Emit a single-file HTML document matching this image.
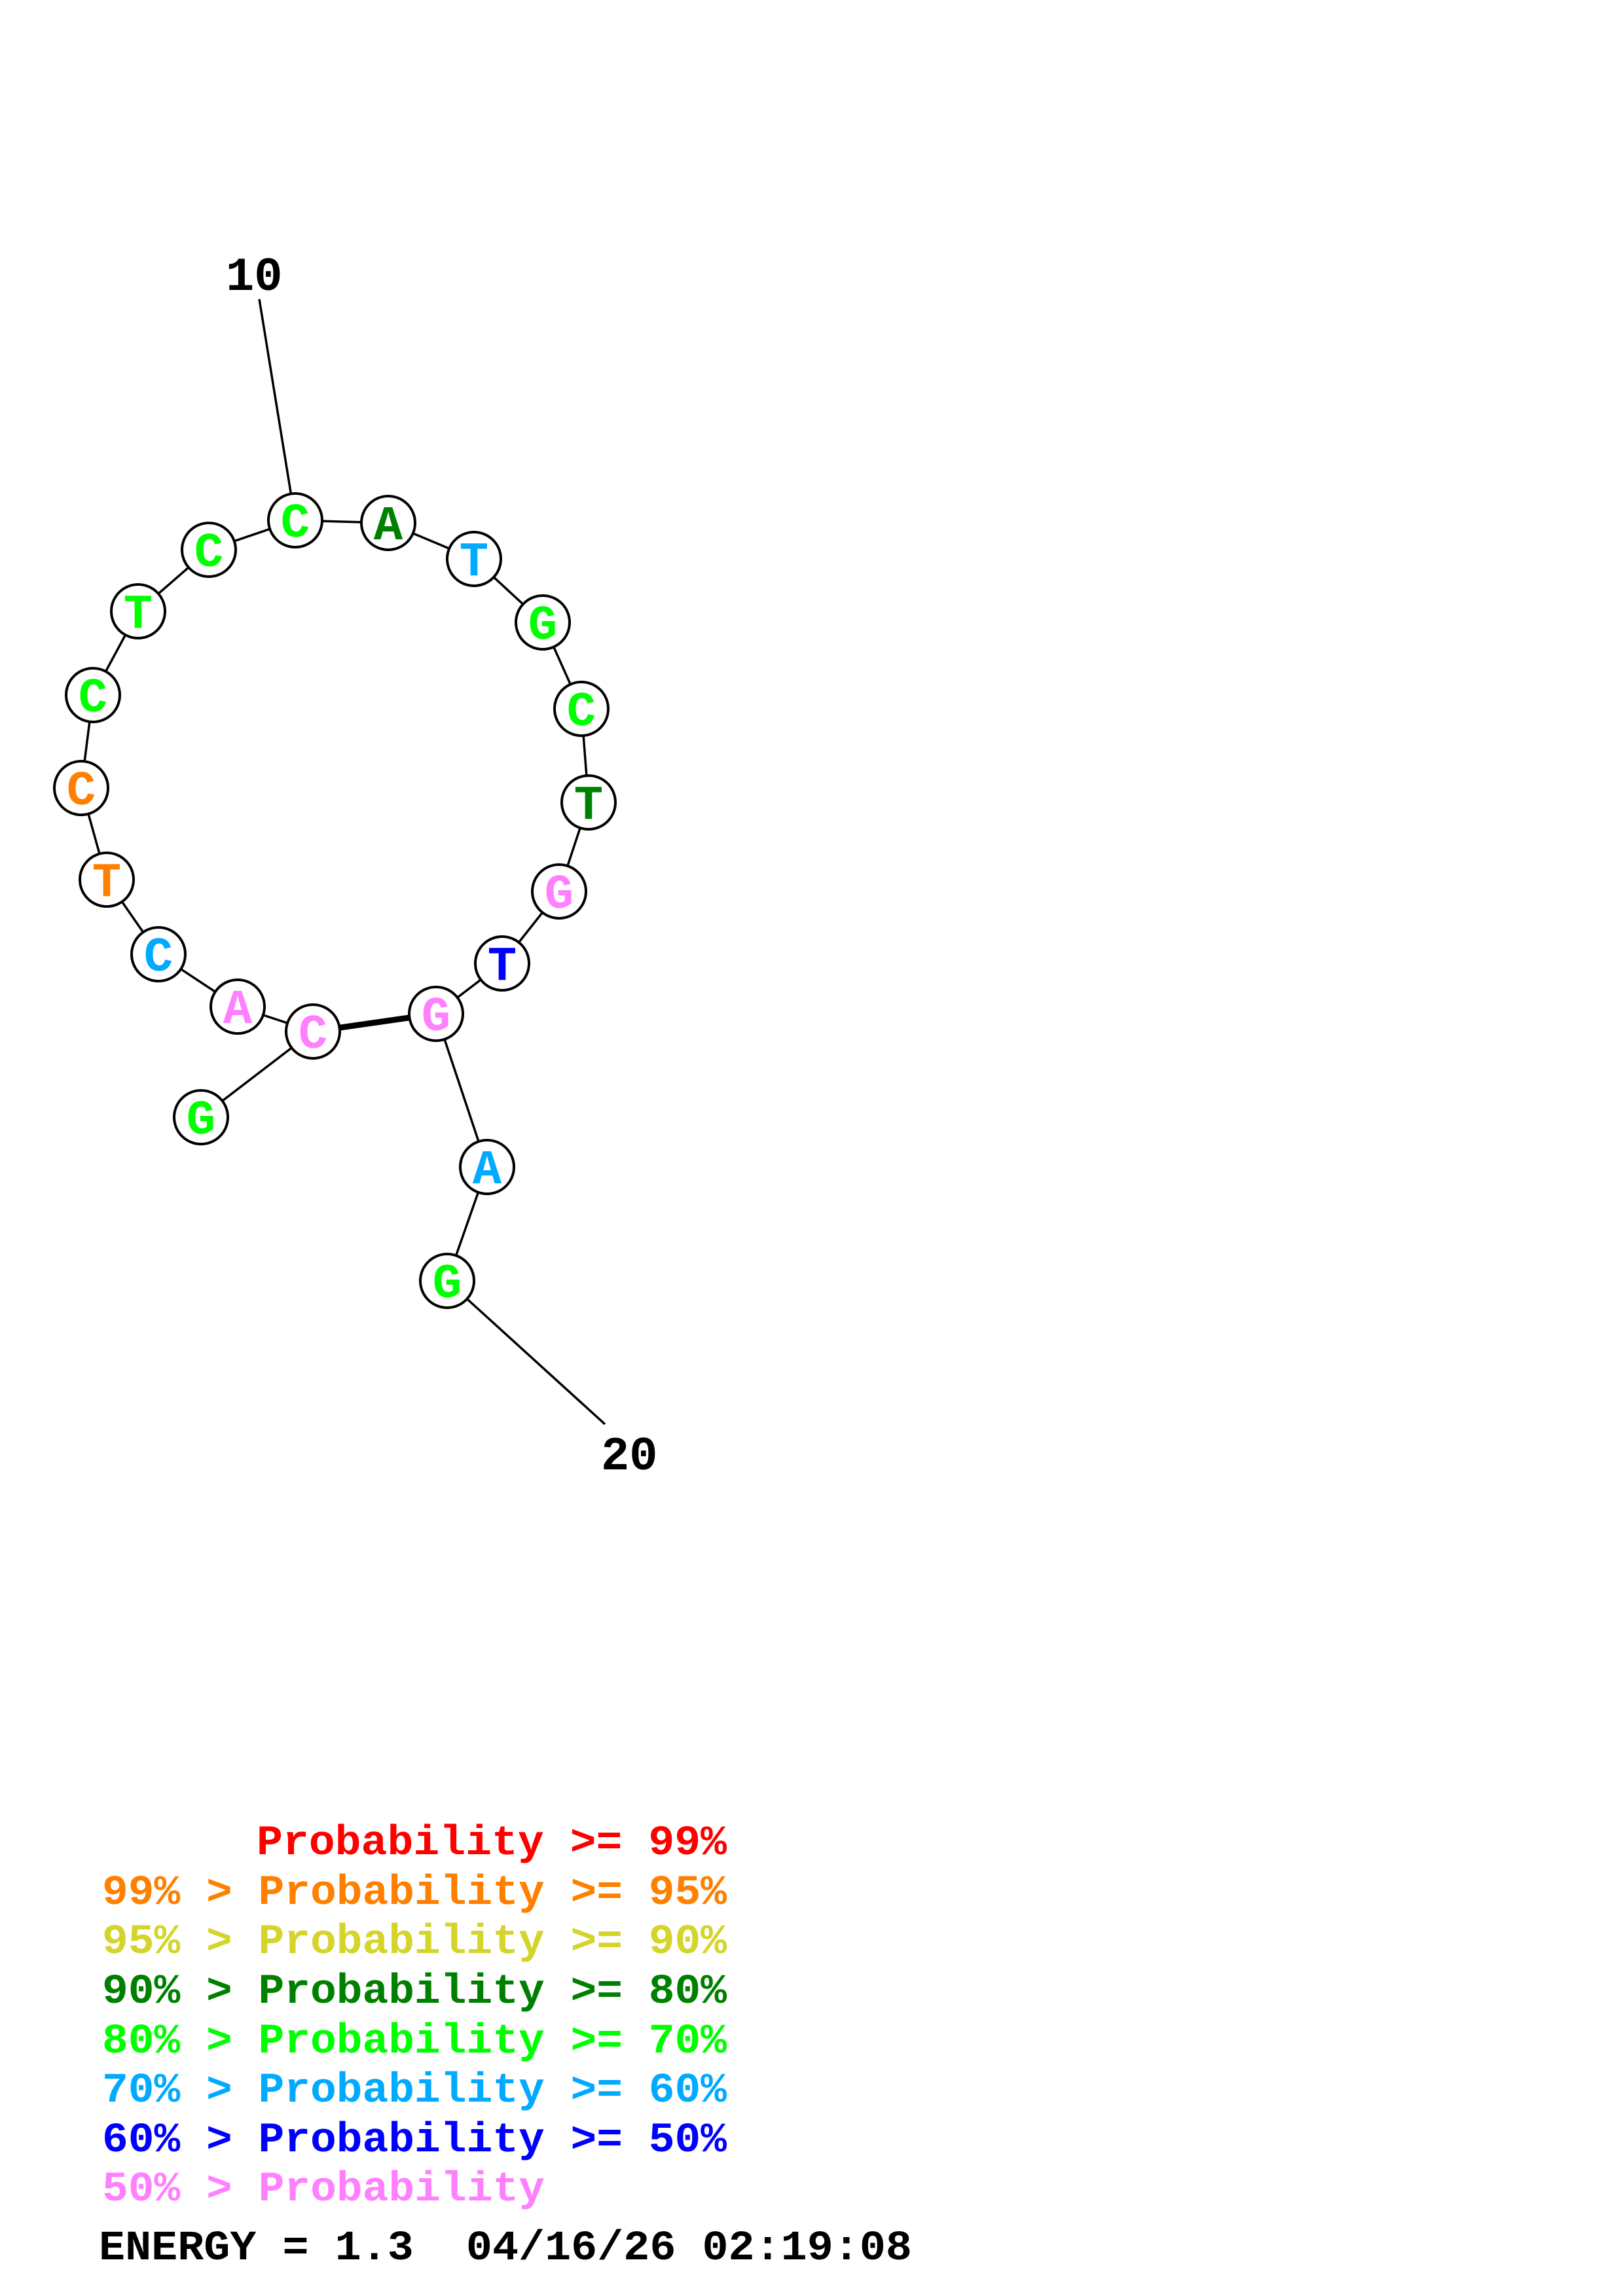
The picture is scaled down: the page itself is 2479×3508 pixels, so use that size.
<!DOCTYPE html>
<html><head><meta charset="utf-8"><style>html,body{margin:0;padding:0;background:#fff}svg{display:block}</style></head>
<body>
<svg width="2479" height="3508" viewBox="0 0 2479 3508" xmlns="http://www.w3.org/2000/svg">
<g stroke="#000" stroke-width="3.5" fill="none">
<polyline points="396,457 451,795 593,799 724,854 829,951 888,1083 899,1226 854,1362 767,1472 666,1549 744,1783 683,1957 924,2176"/>
<polyline points="451,795 319,840 211,934 142,1062 124,1204 163,1344 242,1458 363,1538 478,1576 307,1707"/>
<line x1="478" y1="1576" x2="666" y2="1549" stroke-width="9"/>
</g>
<g stroke="#000" stroke-width="4" fill="#fff">
<circle cx="451" cy="795" r="41"/><circle cx="593" cy="799" r="41"/><circle cx="724" cy="854" r="41"/>
<circle cx="829" cy="951" r="41"/><circle cx="888" cy="1083" r="41"/><circle cx="899" cy="1226" r="41"/>
<circle cx="854" cy="1362" r="41"/><circle cx="767" cy="1472" r="41"/><circle cx="666" cy="1549" r="41"/>
<circle cx="478" cy="1576" r="41"/><circle cx="363" cy="1538" r="41"/><circle cx="242" cy="1458" r="41"/>
<circle cx="163" cy="1344" r="41"/><circle cx="124" cy="1204" r="41"/><circle cx="142" cy="1062" r="41"/>
<circle cx="211" cy="934" r="41"/><circle cx="319" cy="840" r="41"/><circle cx="307" cy="1707" r="41"/>
<circle cx="744" cy="1783" r="41"/><circle cx="683" cy="1957" r="41"/>
</g>
<g font-family="Liberation Mono, monospace" font-weight="bold" font-size="74" text-anchor="middle">
<text x="451" y="820" fill="#00ff00">C</text>
<text x="593" y="824" fill="#008000">A</text>
<text x="724" y="879" fill="#00aaff">T</text>
<text x="829" y="976" fill="#00ff00">G</text>
<text x="888" y="1108" fill="#00ff00">C</text>
<text x="899" y="1251" fill="#008000">T</text>
<text x="854" y="1387" fill="#ff80ff">G</text>
<text x="767" y="1497" fill="#0000ff">T</text>
<text x="666" y="1574" fill="#ff80ff">G</text>
<text x="478" y="1601" fill="#ff80ff">C</text>
<text x="363" y="1563" fill="#ff80ff">A</text>
<text x="242" y="1483" fill="#00aaff">C</text>
<text x="163" y="1369" fill="#ff8000">T</text>
<text x="124" y="1229" fill="#ff8000">C</text>
<text x="142" y="1087" fill="#00ff00">C</text>
<text x="211" y="959" fill="#00ff00">T</text>
<text x="319" y="865" fill="#00ff00">C</text>
<text x="307" y="1732" fill="#00ff00">G</text>
<text x="744" y="1808" fill="#00aaff">A</text>
<text x="683" y="1982" fill="#00ff00">G</text>
</g>
<g font-family="Liberation Mono, monospace" font-weight="bold" font-size="72" fill="#000">
<text x="345" y="443">10</text>
<text x="918" y="2245">20</text>
</g>
<g font-family="Liberation Mono, monospace" font-weight="bold" font-size="64">
<text x="392" y="2833" fill="#ff0000" textLength="718" lengthAdjust="spacingAndGlyphs">Probability &gt;= 99%</text>
<text x="156" y="2909" fill="#ff8000" textLength="954" lengthAdjust="spacingAndGlyphs">99% &gt; Probability &gt;= 95%</text>
<text x="156" y="2984" fill="#d4d42a" textLength="954" lengthAdjust="spacingAndGlyphs">95% &gt; Probability &gt;= 90%</text>
<text x="156" y="3060" fill="#008000" textLength="954" lengthAdjust="spacingAndGlyphs">90% &gt; Probability &gt;= 80%</text>
<text x="156" y="3136" fill="#00ff00" textLength="954" lengthAdjust="spacingAndGlyphs">80% &gt; Probability &gt;= 70%</text>
<text x="156" y="3211" fill="#00aaff" textLength="954" lengthAdjust="spacingAndGlyphs">70% &gt; Probability &gt;= 60%</text>
<text x="156" y="3287" fill="#0000ff" textLength="954" lengthAdjust="spacingAndGlyphs">60% &gt; Probability &gt;= 50%</text>
<text x="156" y="3362" fill="#ff80ff" textLength="676" lengthAdjust="spacingAndGlyphs">50% &gt; Probability</text>
<text x="151" y="3452" fill="#000" textLength="1242" lengthAdjust="spacingAndGlyphs">ENERGY = 1.3&#160;&#160;04/16/26 02:19:08</text>
</g>
</svg>
</body></html>
